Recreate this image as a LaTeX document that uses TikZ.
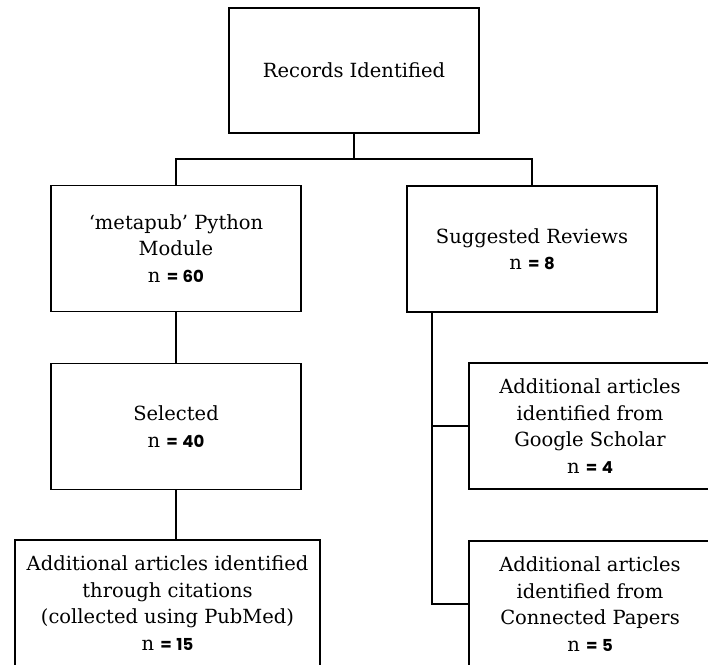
\documentclass[tikz,border=0pt]{standalone}
\usepackage{fontspec}
\setmainfont{DejaVu Serif}
\newfontfamily\numfont{Poppins}
\newcommand{\nval}[1]{n {\numfont\fontsize{16.5}{16.5}\selectfont\bfseries{}= \kern1pt#1}}
\begin{document}
\begin{tikzpicture}[x=1pt,y=-1pt,inner sep=0pt,outer sep=0pt,line width=1.8pt,
flowbox/.style={draw,rectangle,align=center,minimum width=250pt,minimum height=126pt,
font=\fontsize{19.5}{26.5}\selectfont}]
\useasboundingbox (0,0) rectangle (708,664);
\draw (354,70.5) node[flowbox,minimum width=250pt,minimum height=125pt] (rec) {Records Identified};
\draw (176,248.5) node[flowbox] (meta) {‘metapub’ Python\\Module\\\nval{60}};
\draw (532,249) node[flowbox] (sugg) {Suggested Reviews\\\nval{8}};
\draw (176,426.5) node[flowbox] (sel) {Selected\\\nval{40}};
\draw (167.5,603) node[flowbox,minimum width=305pt] (cit) {Additional articles identified\\through citations\\(collected using PubMed)\\\nval{15}};
\draw (590,426) node[flowbox,minimum width=242pt] (gs) {Additional articles\\identified from\\Google Scholar\\\nval{4}};
\draw (590,604) node[flowbox,minimum width=242pt] (cp) {Additional articles\\identified from\\Connected Papers\\\nval{5}};

\coordinate (split) at (354,159);
\coordinate (trunk) at (432,312);
\draw (rec.south) -- (split);
\draw (meta.north) |- (split) -| (sugg.north);
\draw (meta.south) -- (sel.north);
\draw (sel.south) -- (sel.south |- cit.north);
\draw (sugg.south -| trunk) |- (cp.west);
\draw (trunk |- gs.west) -- (gs.west);

\end{tikzpicture}
\end{document}
